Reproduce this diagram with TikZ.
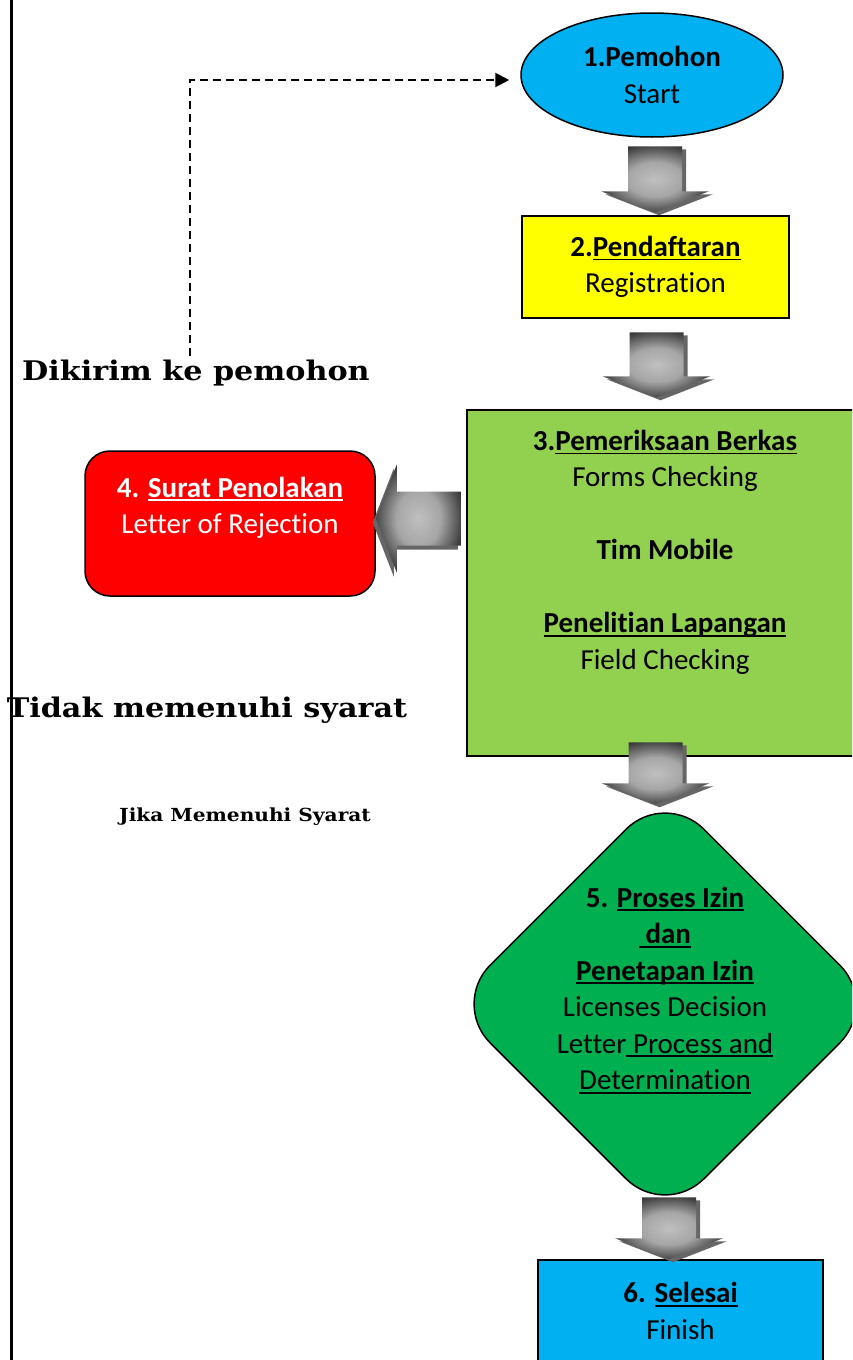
\documentclass[tikz,border=0pt]{standalone}
\usepackage{fontspec}
\setmainfont{Carlito}[Ligatures={NoCommon}]
\newfontfamily\bookfont[FakeStretch=1.12]{DejaVu Serif}
\usetikzlibrary{arrows.meta,shapes.geometric,calc}
\definecolor{startblue}{RGB}{0,176,240}
\definecolor{regyellow}{RGB}{255,255,0}
\definecolor{checkgreen}{RGB}{146,208,80}
\definecolor{rejectred}{RGB}{255,0,0}
\definecolor{permitgreen}{RGB}{0,176,80}
\pgfdeclareradialshading{arrowshade}{\pgfpoint{0bp}{0bp}}{color(0bp)=(black!25); color(13bp)=(black!35); color(27bp)=(black!78); color(100bp)=(black!85)}
\newcommand\ulbox[1]{\setbox0\hbox{#1}\rlap{\rule[-4pt]{\wd0}{1.8pt}}\box0}
\tikzset{
  box/.style={
    draw=black,
    line width=1.5pt,
    align=center,
    inner sep=0pt,
    font=\fontsize{29}{36.5}\selectfont
  },
  startbox/.style={box, ellipse, fill=startblue, minimum width=262pt, minimum height=124pt},
  regbox/.style={box, fill=regyellow, minimum width=267pt, minimum height=102pt},
  checkbox/.style={box, fill=checkgreen, minimum width=396pt, minimum height=346pt},
  rejectbox/.style={box, fill=rejectred, text=white, rounded corners=25pt, minimum width=290pt, minimum height=145pt},
  permitbox/.style={box, diamond, fill=permitgreen, rounded corners=55pt, inner sep=-12pt, minimum size=428pt},
  finishbox/.style={box, fill=startblue, minimum width=285pt, minimum height=102pt},
  note/.style={anchor=base, font=\bookfont\bfseries\fontsize{27}{32}\selectfont},
  smallnote/.style={anchor=base, font=\bookfont\bfseries\fontsize{18}{22}\selectfont},
  dasharrow/.style={-{Triangle[length=14pt,width=14pt]}, line width=2pt, dash pattern=on 8pt off 5pt},
  pics/blockarrow/.style={code={
    \fill[black!60] (-23,{3-#1}) -- (31,{3-#1}) -- (31,-18) -- (58,-18) -- (4,3) -- (-50,-18) -- (-23,-18) -- cycle;
    \shade[shading=arrowshade] (-27,-#1) -- (27,-#1) -- (27,-21) -- (54,-21) -- (0,0) -- (-54,-21) -- (-27,-21) -- cycle;
  }}
}

\begin{document}
\begin{tikzpicture}[x=1pt, y=-1pt]
  \useasboundingbox (0,0) rectangle (852,1360);
  \clip (0,0) rectangle (852,1360);
  \draw[line width=3pt] (11,0) -- (11,1360);
  \node[startbox] (pemohon) at (652,75) {\textbf{1.Pemohon}\\Start};
  \node[regbox] (daftar) at (655.5,267) {\textbf{2.\ulbox{Pendaftaran}}\\Registration};
  \node[checkbox] (periksa) at (665,583) {\textbf{3.\ulbox{Pemeriksaan Berkas}}\\Forms Checking\\[36.5pt]\textbf{Tim Mobile}\\[36.5pt]\textbf{\ulbox{Penelitian Lapangan}}\\Field Checking\\[30pt]\mbox{}};
  \node[rejectbox] (penolakan) at (230,523.5) {\textbf{4. \ulbox{Surat Penolakan}}\\Letter of Rejection\\[0pt]\mbox{}};
  \node[permitbox] (izin) at (665,1004) {\textbf{5. \ulbox{Proses Izin}}\\\textbf{\ulbox{\ dan}}\\\textbf{\ulbox{Penetapan Izin}}\\Licenses Decision\\Letter\ulbox{\ Process and}\\\ulbox{Determination}\\[-5pt]\mbox{}};
  \node[finishbox] (selesai) at (680.5,1311) {\textbf{6. \ulbox{Selesai}}\\Finish};
  \node[note] (kirim) at (196,380) {Dikirim ke pemohon};
  \node[note] (tidak) at (207,717) {Tidak memenuhi syarat};
  \node[smallnote] (jika) at (245,821) {Jika Memenuhi Syarat};
  % block arrows between the steps
  \pic at ($(pemohon.south |- daftar.north)+(3,-3)$) {blockarrow=66};
  \pic at ($(daftar.south |- periksa.north)+(1,-12)$) {blockarrow=65};
  \pic at ($(daftar.south |- izin.north)+(0,15)$) {blockarrow=62};
  \pic at ($(izin.south |- selesai.north)+(4,0)$) {blockarrow=62};
  \pic[rotate=-90] at ($(penolakan.east)+(0,-5)$) {blockarrow=85};
  \draw[dasharrow, shorten >=11pt] ([xshift=-6pt]kirim.north) |- ($(pemohon.west)+(0,5)$);
\end{tikzpicture}
\end{document}
